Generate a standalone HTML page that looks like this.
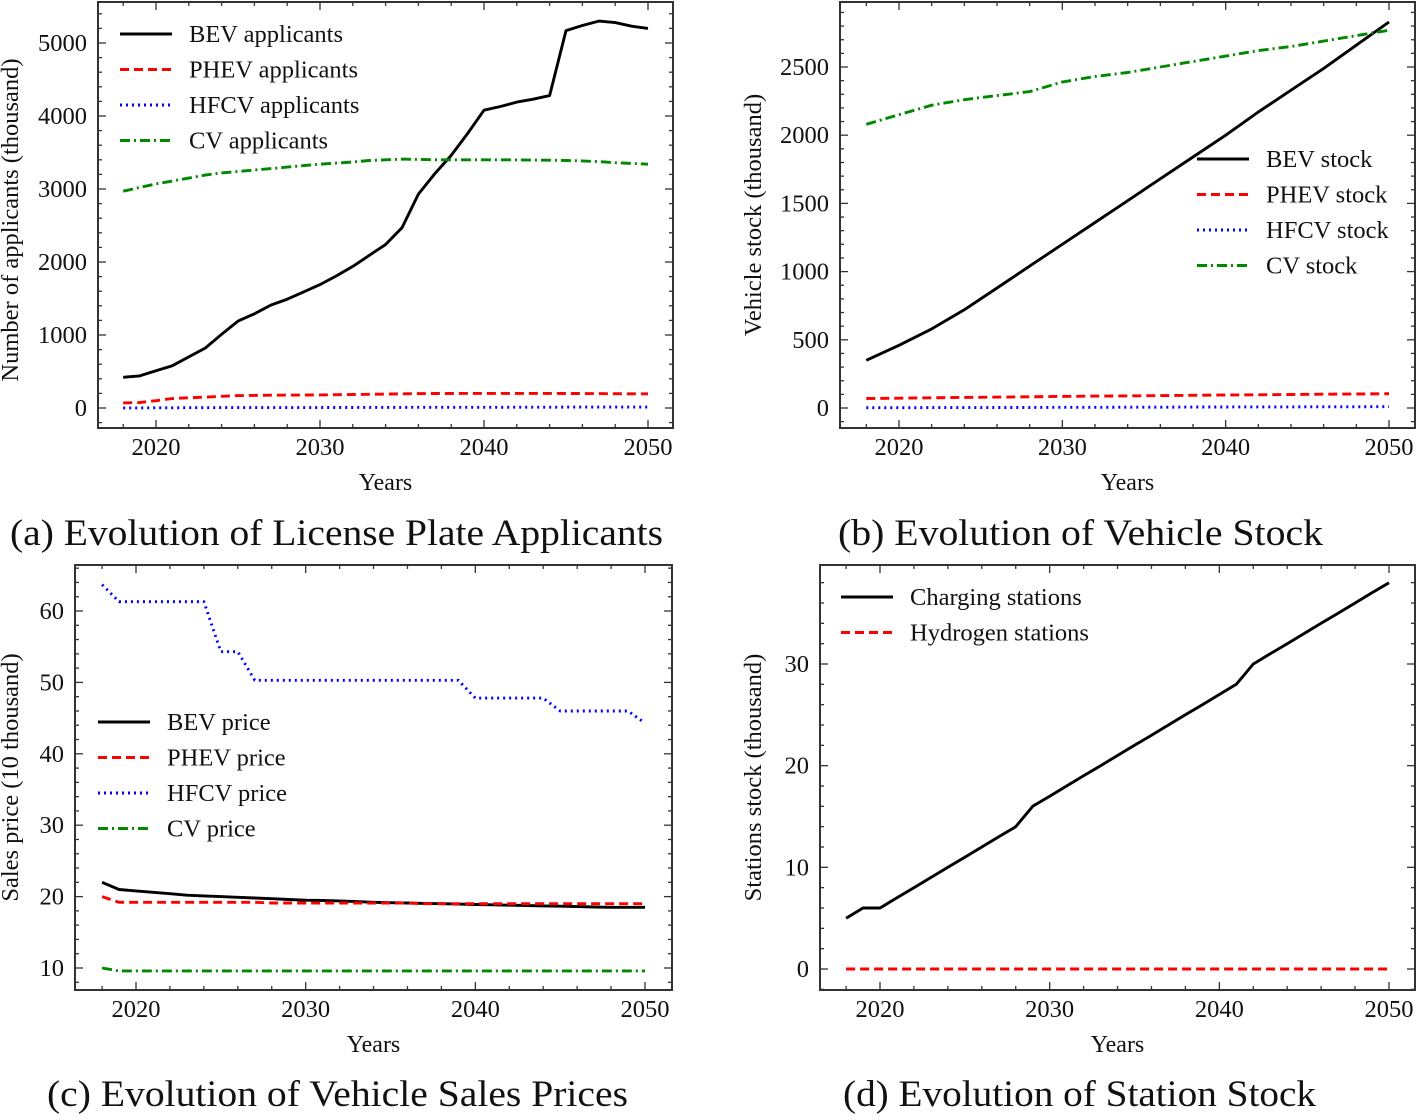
<!DOCTYPE html>
<html><head><meta charset="utf-8"><style>
body{margin:0;background:#fff;}
svg text{font-family:"Liberation Serif",serif;fill:#111;}
</style></head><body>
<svg id="fig" width="1417" height="1115" xmlns="http://www.w3.org/2000/svg">
<text x="10" y="545" font-size="37" textLength="653" lengthAdjust="spacingAndGlyphs">(a) Evolution of License Plate Applicants</text>
<text x="838" y="545" font-size="37" textLength="485" lengthAdjust="spacingAndGlyphs">(b) Evolution of Vehicle Stock</text>
<text x="47" y="1106" font-size="37" textLength="581" lengthAdjust="spacingAndGlyphs">(c) Evolution of Vehicle Sales Prices</text>
<text x="843" y="1106" font-size="37" textLength="473" lengthAdjust="spacingAndGlyphs">(d) Evolution of Station Stock</text>
</svg>
<script>
const yearsA=[2018,2019,2020,2021,2022,2023,2024,2025,2026,2027,2028,2029,2030,2031,2032,2033,2034,2035,2036,2037,2038,2039,2040,2041,2042,2043,2044,2045,2046,2047,2048,2049,2050];
const bevApplicants=[420,440,510,580,700,820,1010,1190,1290,1410,1490,1590,1690,1810,1940,2090,2240,2470,2930,3210,3460,3760,4080,4130,4190,4230,4280,5170,5240,5300,5280,5230,5200];
const phevApplicants=[70,75,100,130,140,150,160,170,172,175,177,178,180,182,185,188,190,195,197,198,199,200,200,200,200,200,200,199,198,197,196,195,195];
const hfcvApplicants=[2,2,3,3,4,4,5,5,5,6,6,6,7,7,7,8,8,8,9,9,9,10,10,10,11,11,11,12,12,12,12,12,12];
const cvApplicants=[2970,3020,3070,3110,3150,3190,3220,3240,3260,3280,3300,3320,3340,3355,3370,3390,3400,3410,3405,3400,3400,3400,3400,3400,3398,3396,3394,3390,3385,3375,3360,3350,3340];
const yearsB=[2018,2020,2022,2024,2026,2028,2030,2032,2034,2036,2038,2040,2042,2044,2046,2048,2050];
const bevStock=[350,460,580,720,880,1040,1200,1360,1520,1680,1840,2000,2170,2330,2490,2660,2830];
const phevStock=[70,72,75,78,80,82,85,87,89,91,93,95,97,99,101,103,105];
const hfcvStock=[2,2,3,3,4,4,5,5,6,6,7,7,8,8,9,9,10];
const cvStock=[2080,2150,2220,2260,2290,2320,2390,2430,2460,2500,2540,2580,2620,2650,2690,2730,2770];
const yearsC=[2018,2019,2020,2021,2022,2023,2024,2025,2026,2027,2028,2029,2030,2031,2032,2033,2034,2035,2036,2037,2038,2039,2040,2041,2042,2043,2044,2045,2046,2047,2048,2049,2050];
const bevPrice=[22.0,21.0,20.8,20.6,20.4,20.2,20.1,20.0,19.9,19.8,19.7,19.6,19.5,19.45,19.4,19.3,19.2,19.15,19.1,19.05,19.0,18.95,18.9,18.85,18.8,18.75,18.7,18.65,18.6,18.55,18.5,18.5,18.5];
const phevPrice=[20.0,19.2,19.2,19.2,19.2,19.2,19.2,19.2,19.2,19.2,19.1,19.1,19.1,19.1,19.1,19.1,19.1,19.1,19.1,19.0,19.0,19.0,19.0,19.0,19.0,19.0,19.0,19.0,19.0,19.0,19.0,19.0,19.0];
const hfcvPrice=[63.7,61.3,61.3,61.3,61.3,61.3,61.3,54.3,54.3,50.3,50.3,50.3,50.3,50.3,50.3,50.3,50.3,50.3,50.3,50.3,50.3,50.3,47.8,47.8,47.8,47.8,47.8,46.0,46.0,46.0,46.0,46.0,44.3];
const cvPrice=[10.0,9.6,9.6,9.6,9.6,9.6,9.6,9.6,9.6,9.6,9.6,9.6,9.6,9.6,9.6,9.6,9.6,9.6,9.6,9.6,9.6,9.6,9.6,9.6,9.6,9.6,9.6,9.6,9.6,9.6,9.6,9.6,9.6];
const yearsD=[2018,2019,2020,2021,2022,2023,2024,2025,2026,2027,2028,2029,2030,2031,2032,2033,2034,2035,2036,2037,2038,2039,2040,2041,2042,2043,2044,2045,2046,2047,2048,2049,2050];
const chargingStations=[5,6,6,7,8,9,10,11,12,13,14,16,17,18,19,20,21,22,23,24,25,26,27,28,30,31,32,33,34,35,36,37,38];
const hydrogenStations=[0,0,0,0,0,0,0,0,0,0,0,0,0,0,0,0,0,0,0,0,0,0,0,0,0,0,0,0,0,0,0,0,0];
const xTicks=[2020,2030,2040,2050];
const yTicksA=[0,1000,2000,3000,4000,5000];
const yTicksB=[0,500,1000,1500,2000,2500];
const yTicksC=[10,20,30,40,50,60];
const yTicksD=[0,10,20,30];

const NS="http://www.w3.org/2000/svg";
const svg=document.getElementById('fig');
function mk(tag,attrs,parent){const e=document.createElementNS(NS,tag);for(const k in attrs)e.setAttribute(k,attrs[k]);(parent||svg).appendChild(e);return e;}
const STY={solid:{stroke:'#000',dash:''},dash:{stroke:'#f00',dash:'9,5'},dot:{stroke:'#00f',dash:'2,4'},dashdot:{stroke:'#080',dash:'10,4,2,4'}};

function panel(p){
  const g=mk('g',{});
  
  
  const sx=v=>p.x0px+(v-p.x0v)*(p.x1px-p.x0px)/(p.x1v-p.x0v);
  const sy=v=>p.y0px+(v-p.y0v)*(p.y1px-p.y0px)/(p.y1v-p.y0v);
  const fr=mk('rect',{x:p.L,y:p.T,width:p.R-p.L,height:p.B-p.T,fill:'none',stroke:'#333','stroke-width':2},g);
  
  for(let yr=2018;yr<=2050;yr+=2){const X=sx(yr);const len=(yr%10===0)?8:4;
    mk('line',{x1:X,x2:X,y1:p.B,y2:p.B-len,stroke:'#333','stroke-width':1.3},g);
    mk('line',{x1:X,x2:X,y1:p.T,y2:p.T+len,stroke:'#333','stroke-width':1.3},g);}
  xTicks.forEach(t=>{const e=mk('text',{x:sx(t),y:p.B+27,'font-size':24.5,'text-anchor':'middle'},g);e.textContent=t;
    });
  const step=p.yt[1]-p.yt[0];const ms=step/p.minor;
  const vTop=p.y0v+(p.T-p.y0px)*(p.y1v-p.y0v)/(p.y1px-p.y0px);
  const vBot=p.y0v+(p.B-p.y0px)*(p.y1v-p.y0v)/(p.y1px-p.y0px);
  for(let v=Math.ceil(vBot/ms)*ms;v<=vTop;v+=ms){const Y=sy(v);const maj=Math.abs(v/step-Math.round(v/step))<1e-6;const len=maj?8:4;
    mk('line',{x1:p.L,x2:p.L+len,y1:Y,y2:Y,stroke:'#333','stroke-width':1.3},g);
    mk('line',{x1:p.R,x2:p.R-len,y1:Y,y2:Y,stroke:'#333','stroke-width':1.3},g);}
  p.yt.forEach(t=>{const e=mk('text',{x:p.L-11,y:sy(t)+8,'font-size':24.5,'text-anchor':'end'},g);e.textContent=t;
    });
  const xl=mk('text',{x:(p.L+p.R)/2,y:p.B+62,'font-size':24,'text-anchor':'middle'},g);xl.textContent='Years';
  
  const cy=(p.T+p.B)/2+p.yoff;
  const yl=mk('text',{x:p.ylx,y:cy,'font-size':24.5,'text-anchor':'middle',transform:`rotate(-90 ${p.ylx} ${cy})`},g);yl.textContent=p.ylabel;
  
  p.series.forEach((s,i)=>{const st=STY[s.style];
    const d=s.vals.map((v,j)=>(j?'L':'M')+sx(p.xs[j]).toFixed(1)+','+sy(v).toFixed(1)).join(' ');
    const path=mk('path',{d:d,fill:'none',stroke:st.stroke,'stroke-width':2.9,'stroke-dasharray':st.dash,'stroke-linejoin':'round'},g);
    
    const ly=p.leg[1]+i*p.leg[2];
    const ll=mk('line',{x1:p.leg[0],x2:p.leg[0]+52,y1:ly,y2:ly,stroke:st.stroke,'stroke-width':2.9,'stroke-dasharray':st.dash},g);
    
    const lt=mk('text',{x:p.leg[0]+69,y:ly+8,'font-size':24.5},g);lt.textContent=s.label;
    
  });
}
panel({name:'chart-applicants',L:98,R:673,T:2,B:428,x0v:2020,x0px:156,x1v:2050,x1px:648,y0v:0,y0px:408,y1v:5000,y1px:43,yt:yTicksA,minor:5,ylx:18,yoff:5,ylabel:'Number of applicants (thousand)',xs:yearsA,leg:[120,34,35.5],
 series:[{key:'bev',label:'BEV applicants',style:'solid',vals:bevApplicants},{key:'phev',label:'PHEV applicants',style:'dash',vals:phevApplicants},{key:'hfcv',label:'HFCV applicants',style:'dot',vals:hfcvApplicants},{key:'cv',label:'CV applicants',style:'dashdot',vals:cvApplicants}]});
panel({name:'chart-vehicle-stock',L:840,R:1415,T:2,B:428,x0v:2020,x0px:899,x1v:2050,x1px:1389,y0v:0,y0px:408,y1v:2500,y1px:67,yt:yTicksB,minor:5,ylx:761,yoff:0,ylabel:'Vehicle stock (thousand)',xs:yearsB,leg:[1197,159,35.5],
 series:[{key:'bev',label:'BEV stock',style:'solid',vals:bevStock},{key:'phev',label:'PHEV stock',style:'dash',vals:phevStock},{key:'hfcv',label:'HFCV stock',style:'dot',vals:hfcvStock},{key:'cv',label:'CV stock',style:'dashdot',vals:cvStock}]});
panel({name:'chart-sales-prices',L:75,R:672,T:565,B:990,x0v:2020,x0px:136,x1v:2050,x1px:645,y0v:10,y0px:968,y1v:60,y1px:611,yt:yTicksC,minor:5,ylx:18,yoff:0,ylabel:'Sales price (10 thousand)',xs:yearsC,leg:[98,722,35.5],
 series:[{key:'bev',label:'BEV price',style:'solid',vals:bevPrice},{key:'phev',label:'PHEV price',style:'dash',vals:phevPrice},{key:'hfcv',label:'HFCV price',style:'dot',vals:hfcvPrice},{key:'cv',label:'CV price',style:'dashdot',vals:cvPrice}]});
panel({name:'chart-station-stock',L:820,R:1415,T:565,B:990,x0v:2020,x0px:880,x1v:2050,x1px:1389,y0v:0,y0px:969,y1v:30,y1px:664,yt:yTicksD,minor:5,ylx:761,yoff:0,ylabel:'Stations stock (thousand)',xs:yearsD,leg:[841,597,35.5],
 series:[{key:'charging',label:'Charging stations',style:'solid',vals:chargingStations},{key:'hydrogen',label:'Hydrogen stations',style:'dash',vals:hydrogenStations}]});
</script>
</body></html>
